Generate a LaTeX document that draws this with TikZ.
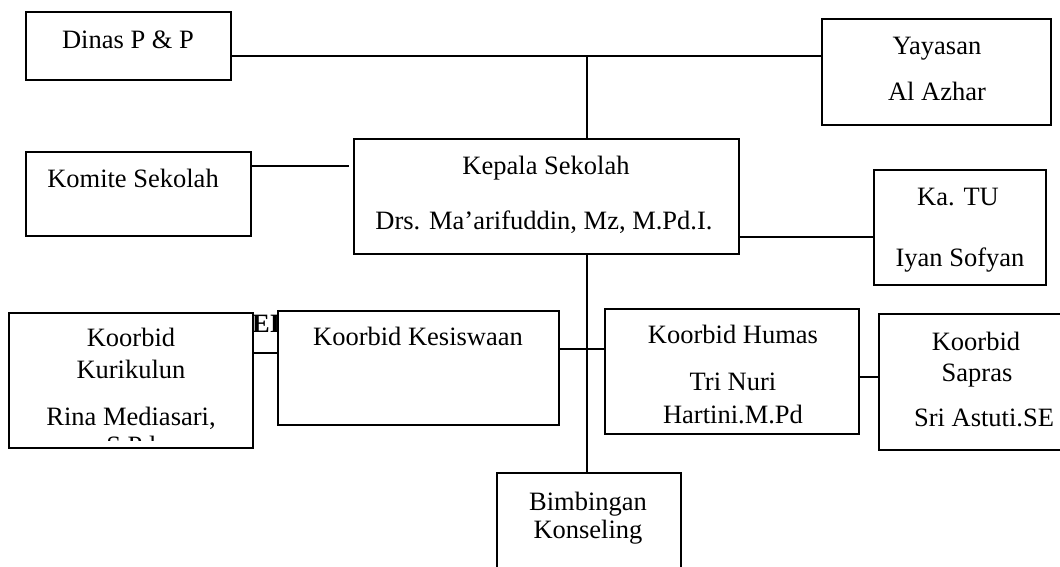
\documentclass[tikz,border=0pt]{standalone}
\usepackage{fontspec}
\setmainfont{Liberation Serif}
\usepackage{tikz}
\tikzset{
	kotak/.style={draw, line width=1.2pt, fill=white, inner sep=0pt},
	tulisan/.style={font=\fontsize{26.5}{32}\selectfont, inner sep=0pt, text height=17pt, text depth=0pt},
	garis/.style={line width=1.2pt}
}

\begin{document}
\begin{tikzpicture}[x=1pt, y=-1pt]
	\useasboundingbox (0,0) rectangle (1060,566);
	\clip (0,0) rectangle (1060,566);
	% bold heading behind the boxes
	\node[tulisan, font=\fontsize{26.5}{32}\selectfont\bfseries, anchor=west] (judul) at (252,323.5) {EI};
	% boxes
	\node[kotak, minimum width=205, minimum height=68] (dinas) at (128.5,46) {};
	\node[kotak, minimum width=229, minimum height=106] (yayasan) at (936.5,72) {};
	\node[kotak, minimum width=225, minimum height=84] (komite) at (138.5,194) {};
	\node[kotak, minimum width=385, minimum height=115] (kepala) at (546.5,196.5) {};
	\node[kotak, minimum width=172, minimum height=115] (katu) at (960,227.5) {};
	\node[kotak, minimum width=244, minimum height=135] (kuri) at (131,380.5) {};
	\node[kotak, minimum width=281, minimum height=114] (kesis) at (418.5,368) {};
	\node[kotak, minimum width=254, minimum height=125] (humas) at (732,371.5) {};
	\node[kotak, minimum width=197, minimum height=136] (sapras) at (977.5,382) {};
	\node[kotak, minimum width=184, minimum height=127] (bk) at (589,536.5) {};
	% texts
	\node[tulisan] (dinasT) at (128,40) {Dinas P \& P};
	\node[tulisan] (yayasanT1) at (937,46) {Yayasan};
	\node[tulisan] (yayasanT2) at (937,92) {Al Azhar};
	\node[tulisan] (komiteT) at (133,179) {Komite Sekolah};
	\node[tulisan] (kepalaT1) at (546,166) {Kepala Sekolah};
	\node[tulisan] (kepalaT2) at (544,221) {Drs. Ma’arifuddin, Mz, M.Pd.I.};
	\node[tulisan] (katuT1) at (958,197) {Ka. TU};
	\node[tulisan] (katuT2) at (960,258) {Iyan Sofyan};
	\node[tulisan] (kuriT1) at (131,338) {Koorbid};
	\node[tulisan] (kuriT2) at (131,370) {Kurikulun};
	\node[tulisan] (kuriT3) at (131,417) {Rina Mediasari,};
	\begin{scope}
		\clip (9,313) rectangle (253,440);
		\node[tulisan] (kuriT4) at (131,446) {S.Pd};
	\end{scope}
	\node[tulisan] (kesisT) at (418,337) {Koorbid Kesiswaan};
	\node[tulisan] (humasT1) at (733,335) {Koorbid Humas};
	\node[tulisan] (humasT2) at (733,382) {Tri Nuri};
	\node[tulisan] (humasT3) at (733,415) {Hartini.M.Pd};
	\node[tulisan] (saprasT1) at (976,342) {Koorbid};
	\node[tulisan] (saprasT2) at (977,373) {Sapras};
	\node[tulisan] (saprasT3) at (984,418) {Sri Astuti.SE};
	\node[tulisan] (bkT1) at (588,502) {Bimbingan};
	\node[tulisan] (bkT2) at (588,530) {Konseling};
	% connectors
	\coordinate (cab) at (587,56);
	\coordinate (kk) at (349,166);
	\coordinate (ktu) at (874,237);
	\coordinate (kks) at (265,353);
	\coordinate (khu) at (580,349);
	\coordinate (hsp) at (870,377);
	\draw[garis] (dinas.east |- cab) to (yayasan.west |- cab);
	\draw[garis] (cab) to (kepala.north -| cab);
	\draw[garis] (komite.east |- kk) to (kk);
	\draw[garis] (kepala.east |- ktu) to (katu.west |- ktu);
	\draw[garis] (kepala.south -| cab) to (bk.north -| cab);
	\draw[garis] (kuri.east |- kks) to (kesis.west |- kks);
	\draw[garis] (kesis.east |- khu) to (humas.west |- khu);
	\draw[garis] (humas.east |- hsp) to (sapras.west |- hsp);
\end{tikzpicture}
\end{document}
